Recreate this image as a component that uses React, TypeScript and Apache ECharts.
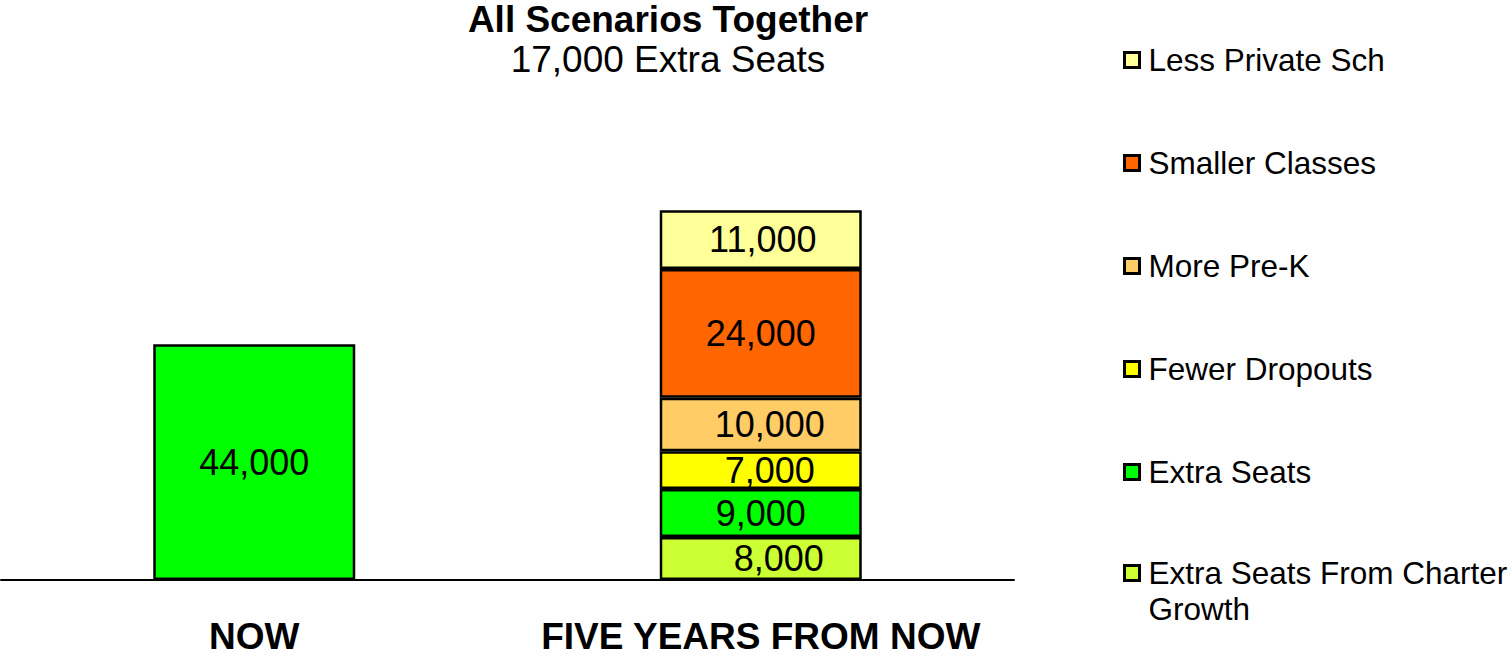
import React, { useEffect, useRef } from "react";
import * as echarts from "echarts";

const categories = ["NOW", "FIVE YEARS FROM NOW"];
const charterGrowth = [null, 8000];
const extraSeats = [44000, 9000];
const fewerDropouts = [null, 7000];
const morePreK = [null, 10000];
const smallerClasses = [null, 24000];
const lessPrivate = [null, 11000];

const seriesNames = [
  "Extra Seats From Charter Growth",
  "Extra Seats",
  "Fewer Dropouts",
  "More Pre-K",
  "Smaller Classes",
  "Less Private Sch",
];
const seriesColors = ["#CCFF33", "#00FF00", "#FFFF00", "#FFCC66", "#FF6600", "#FFFF99"];
const seriesValues = [charterGrowth, extraSeats, fewerDropouts, morePreK, smallerClasses, lessPrivate];
const labelOffsets = [[18, 0], [0, 0], [9, 0], [9, 0], [0, 0], [2, 0]];

const FONT = "'Liberation Sans', Arial, Helvetica, sans-serif";

export default function App() {
  const ref = useRef<HTMLDivElement>(null);
  useEffect(() => {
    document.body.style.margin = "0";
    const chart = echarts.init(ref.current!, null, { renderer: "svg" });
    const series = seriesNames.map((name, i) => ({
      name,
      type: "bar",
      stack: "total",
      barWidth: 202,
      data: seriesValues[i],
      itemStyle: { color: seriesColors[i], borderColor: "#000", borderWidth: 2.5 },
      label: {
        show: true,
        position: "inside",
        offset: labelOffsets[i],
        color: "#000",
        fontFamily: FONT,
        fontSize: 36,
        formatter: (p: any) => (p.value == null ? "" : Number(p.value).toLocaleString("en-US")),
      },
    }));
    const legendTop = [...seriesNames].reverse().slice(0, 5);
    const legendText = { fontFamily: FONT, fontSize: 31.5, color: "#000", lineHeight: 36, padding: [0, 0, 0, 4] };
    chart.setOption({
      animation: false,
      title: {
        text: "All Scenarios Together",
        subtext: "17,000 Extra Seats",
        left: 668,
        top: 0,
        padding: 0,
        textAlign: "center",
        itemGap: 2,
        textStyle: { fontFamily: FONT, fontSize: 37, fontWeight: "bold", color: "#000", lineHeight: 38 },
        subtextStyle: { fontFamily: FONT, fontSize: 37, color: "#000", lineHeight: 38 },
      },
      legend: [
        {
          orient: "vertical",
          left: 1123,
          top: 42,
          padding: 0,
          itemGap: 67,
          itemWidth: 15,
          itemHeight: 15,
          icon: "rect",
          data: legendTop,
          itemStyle: { borderColor: "#000", borderWidth: 3 },
          textStyle: legendText,
          selectedMode: false,
        },
        {
          orient: "vertical",
          left: 1123,
          top: 519,
          padding: 0,
          itemWidth: 15,
          itemHeight: 15,
          icon: "rect",
          data: [seriesNames[0]],
          formatter: () => "\nExtra Seats From Charter\nGrowth",
          itemStyle: { borderColor: "#000", borderWidth: 3 },
          textStyle: legendText,
          selectedMode: false,
        },
      ],
      grid: { left: 1, width: 1013, top: 44, height: 536, containLabel: false },
      xAxis: {
        type: "category",
        data: categories,
        axisLine: { show: true, lineStyle: { color: "#000", width: 2 } },
        axisTick: { show: false },
        axisLabel: {
          interval: 0,
          margin: 38,
          color: "#000",
          fontFamily: FONT,
          fontWeight: "bold",
          fontSize: 37,
        },
      },
      yAxis: {
        type: "value",
        min: 0,
        max: 100000,
        show: false,
        splitLine: { show: false },
      },
      series,
    });
    return () => chart.dispose();
  }, []);
  return <div ref={ref} style={{ width: 1512, height: 656 }} />;
}
